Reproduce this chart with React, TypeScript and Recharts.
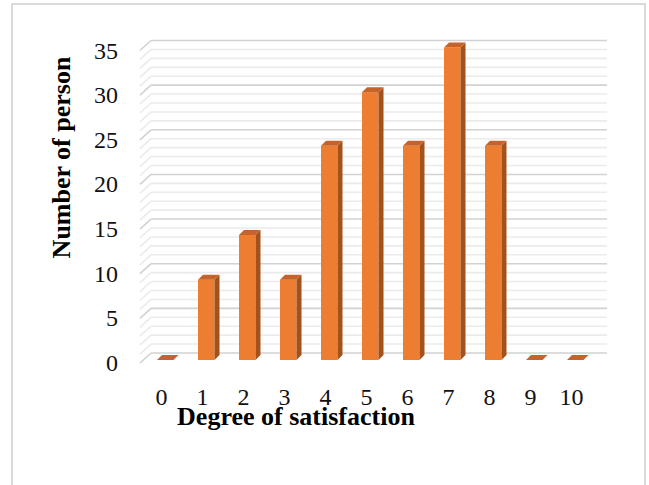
import React from 'react';
import { BarChart, Bar, XAxis, YAxis, CartesianGrid } from 'recharts';

// Satisfaction scores (0-10) and the number of respondents for each
const categories = ['0', '1', '2', '3', '4', '5', '6', '7', '8', '9', '10'];
const persons = [0, 9, 14, 9, 24, 30, 24, 35, 24, 0, 0];

// Value-axis ticks: a fine line at every unit, labelled every 5
const valueTicks = [
  0, 1, 2, 3, 4, 5, 6, 7, 8, 9, 10, 11, 12, 13, 14, 15, 16, 17,
  18, 19, 20, 21, 22, 23, 24, 25, 26, 27, 28, 29, 30, 31, 32, 33, 34, 35,
];
const LABEL_STEP = 5;

const data = categories.map((c, i) => ({ score: c, persons: persons[i] }));

const FONT = '"Liberation Serif", "Times New Roman", serif';

// Perspective offsets for the pseudo-3D floor/back wall and the column depth
const WALL_DX = 11;
const WALL_DY = 7;
const FRONT_DX = 5;
const FRONT_DY = 3;
const COL_DEPTH = 5;

const GridLine = (props: any) => {
  const { x1, x2, y1, index } = props;
  const major = typeof index === 'number' ? index % LABEL_STEP === 0 : true;
  const color = major ? '#d2d2d2' : '#ebebeb';
  const backY = y1 - WALL_DY;
  return (
    <g key={props.key}>
      <line x1={x1 - FRONT_DX} y1={y1 + FRONT_DY} x2={x1 + 6} y2={backY} stroke={color} strokeWidth={1.6} />
      <line x1={x1 + 6} y1={backY} x2={x2 + WALL_DX} y2={backY} stroke={color} strokeWidth={1.6} />
    </g>
  );
};

const Column3D = (props: any) => {
  const { x, y, width, height } = props;
  if (x == null || y == null) return null;
  const d = COL_DEPTH;
  const h = Math.max(0, height || 0);
  const top = `M${x},${y} L${x + width},${y} L${x + width + d},${y - d} L${x + d},${y - d} Z`;
  const side = `M${x + width},${y} L${x + width + d},${y - d} L${x + width + d},${y + h - d} L${x + width},${y + h} Z`;
  return (
    <g>
      {h > 0 && <rect x={x} y={y} width={width} height={h} fill="#ED7D31" />}
      {h > 0 && <path d={side} fill="#A3521B" />}
      <path d={top} fill="#C5632A" />
    </g>
  );
};

const YTick = (props: any) => {
  const { x, y, payload } = props;
  if (payload.value % LABEL_STEP !== 0) return null;
  return (
    <text x={x} y={y + FRONT_DY} textAnchor="end" dominantBaseline="central" fontFamily={FONT} fontSize={24} fill="#111">
      {payload.value}
    </text>
  );
};

const XTick = (props: any) => {
  const { x, y, payload } = props;
  return (
    <text x={x - 4} y={y + 37} textAnchor="middle" dominantBaseline="central" fontFamily={FONT} fontSize={24} fill="#111">
      {payload.value}
    </text>
  );
};

const XTitle = (props: any) => {
  const { viewBox } = props;
  return (
    <text x={viewBox.x + 151} y={viewBox.y + 65} textAnchor="middle" fontFamily={FONT} fontSize={26} fontWeight="bold" fill="#000">
      Degree of satisfaction
    </text>
  );
};

const YTitle = (props: any) => {
  const { viewBox } = props;
  const cx = viewBox.x + 16;
  const cy = viewBox.y + 110;
  return (
    <text x={cx} y={cy} transform={`rotate(-90 ${cx} ${cy})`} textAnchor="middle" dominantBaseline="central" fontFamily={FONT} fontSize={26} fontWeight="bold" fill="#000">
      Number of person
    </text>
  );
};

export default function App() {
  return (
    <div style={{ position: 'absolute', left: 0, top: 0, width: 649, height: 485, background: '#fff', overflow: 'hidden' }}>
      <div
        style={{
          position: 'absolute',
          left: 11,
          top: 3,
          width: 635,
          height: 520,
          border: '2px solid #d9d9d9',
          boxSizing: 'border-box',
        }}
      />
      <div style={{ position: 'absolute', left: 0, top: 0 }}>
        <BarChart
          width={649}
          height={485}
          data={data}
          margin={{ top: 47.5, right: 53, bottom: 95, left: 45 }}
        >
          <CartesianGrid vertical={false} horizontal={<GridLine />} />
          <XAxis
            dataKey="score"
            axisLine={false}
            tickLine={false}
            tickSize={0}
            tickMargin={0}
            height={30}
            interval={0}
            tick={<XTick />}
            label={<XTitle />}
          />
          <YAxis
            domain={[0, 35]}
            ticks={valueTicks}
            interval={0}
            width={100}
            axisLine={false}
            tickLine={false}
            tickSize={0}
            tickMargin={27}
            tick={<YTick />}
            label={<YTitle />}
          />
          <Bar
            dataKey="persons"
            barSize={16.5}
            shape={<Column3D />}
            isAnimationActive={false}
          />
        </BarChart>
      </div>
    </div>
  );
}
